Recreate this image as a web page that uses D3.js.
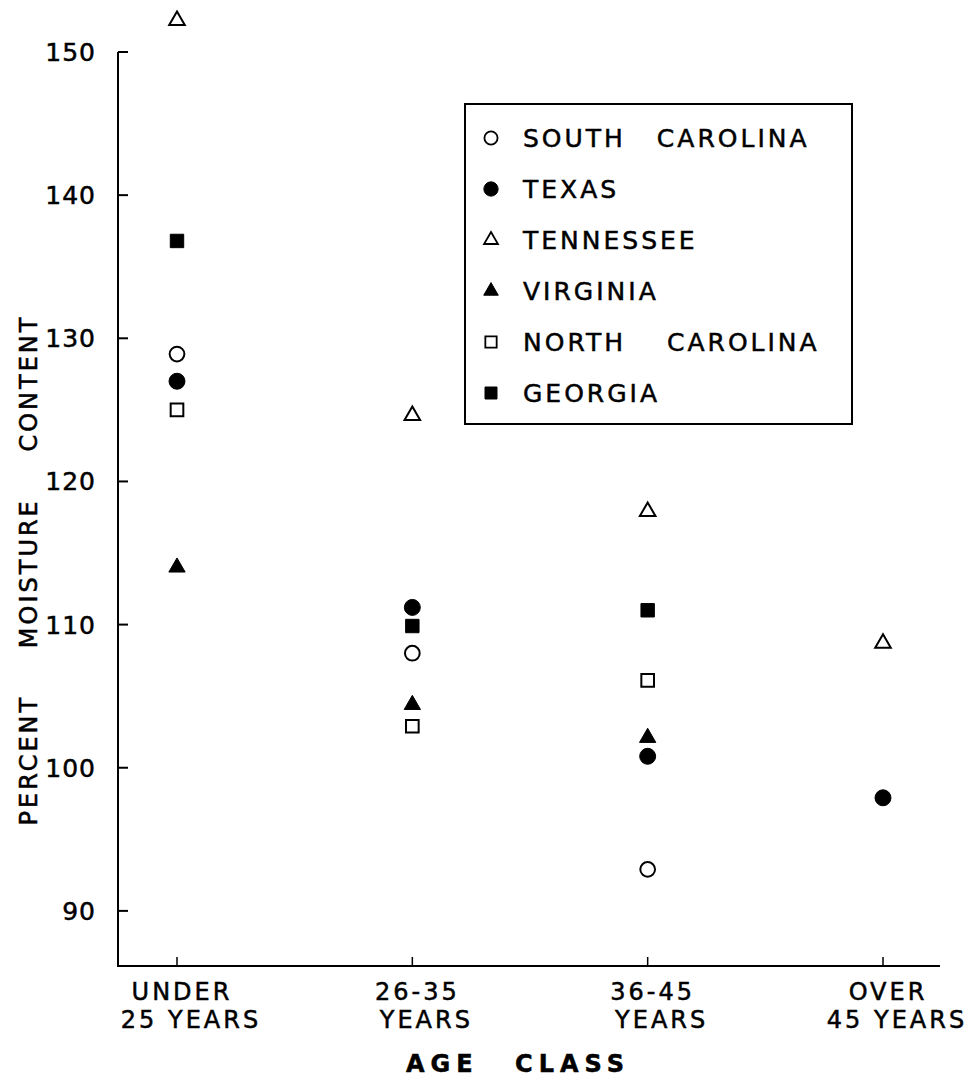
<!DOCTYPE html>
<html>
<head>
<meta charset="utf-8">
<script src="https://cdn.jsdelivr.net/npm/d3@7"></script>
<style>
    body { margin: 0; background: #fff; }
    text { font-family: "DejaVu Sans", sans-serif; fill: #000; stroke: #000; stroke-width: 0.5px; }
</style>
</head>
<body>
<div id="chart"></div>
<script>
var categories = ["under25", "26-35", "36-45", "over45"];
var categoryLines = [["UNDER", "25 YEARS"], ["26-35", "YEARS"], ["36-45", "YEARS"], ["OVER", "45 YEARS"]];
var yTicks = [90, 100, 110, 120, 130, 140, 150];

var seriesNames = ["SOUTH CAROLINA", "TEXAS", "TENNESSEE", "VIRGINIA", "NORTH CAROLINA", "GEORGIA"];
var southCarolina = [128.9, 108.0, 92.9, null];
var texas = [127.0, 111.2, 100.8, 97.9];
var tennessee = [152.2, 124.6, 117.9, 108.7];
var virginia = [114.0, 104.4, 102.1, null];
var northCarolina = [125.0, 102.9, 106.1, null];
var georgia = [136.8, 109.9, 111.0, null];

var seriesValues = [southCarolina, texas, tennessee, virginia, northCarolina, georgia];
var shapes = [
    { type: d3.symbolCircle, size: 170, filled: false },
    { type: d3.symbolCircle, size: 200, filled: true },
    { type: d3.symbolTriangle, size: 105, filled: false },
    { type: d3.symbolTriangle, size: 115, filled: true },
    { type: d3.symbolSquare, size: 160, filled: false },
    { type: d3.symbolSquare, size: 180, filled: true }
];

var width = 974,
    height = 1080;

var svg = d3.select("#chart")
    .append("svg")
    .attr("width", width)
    .attr("height", height);

var x = d3.scalePoint()
    .domain(categories)
    .range([177, 883]);

var y = d3.scaleLinear()
    .domain([86.15, 150])
    .range([966, 52]);

var axisLeftX = 118,
    axisRightX = 940;

// y axis: line + inward ticks
svg.append("line")
    .attr("x1", axisLeftX).attr("x2", axisLeftX)
    .attr("y1", y(150)).attr("y2", y.range()[0])
    .style("stroke", "#000").style("stroke-width", 2);

svg.selectAll(".ytick")
    .data(yTicks).enter()
    .append("line")
    .attr("class", "ytick")
    .attr("x1", axisLeftX).attr("x2", axisLeftX + 10)
    .attr("y1", function(d) { return y(d); })
    .attr("y2", function(d) { return y(d); })
    .style("stroke", "#000").style("stroke-width", 2);

svg.selectAll(".ylabel")
    .data(yTicks).enter()
    .append("text")
    .attr("class", "ylabel")
    .attr("x", 96)
    .attr("y", function(d) { return y(d) + 9; })
    .style("text-anchor", "end")
    .style("font-size", "25px")
    .style("letter-spacing", "1px")
    .text(function(d) { return d; });

// x axis
svg.append("line")
    .attr("x1", axisLeftX - 1).attr("x2", axisRightX)
    .attr("y1", y.range()[0]).attr("y2", y.range()[0])
    .style("stroke", "#000").style("stroke-width", 2);

svg.selectAll(".xtick")
    .data(categories).enter()
    .append("line")
    .attr("class", "xtick")
    .attr("x1", function(d) { return x(d); })
    .attr("x2", function(d) { return x(d); })
    .attr("y1", y.range()[0]).attr("y2", y.range()[0] - 9)
    .style("stroke", "#000").style("stroke-width", 1.5);

var xl = svg.selectAll(".xlabel")
    .data(categories).enter()
    .append("text")
    .attr("class", "xlabel")
    .style("text-anchor", "middle")
    .style("font-size", "24px")
    .style("letter-spacing", "3px");

xl.append("tspan")
    .attr("x", function(d) { return x(d) + 5; })
    .attr("y", 1000)
    .text(function(d, i) { return categoryLines[i][0]; });
xl.append("tspan")
    .attr("x", function(d) { return x(d) + 14; })
    .attr("y", 1028)
    .text(function(d, i) { return categoryLines[i][1]; });

// axis titles
svg.append("text")
    .attr("x", 518)
    .attr("y", 1072)
    .style("text-anchor", "middle")
    .style("font-size", "24px")
    .style("font-weight", "bold")
    .style("letter-spacing", "6px")
    .style("word-spacing", "22px")
    .text("AGE CLASS");

svg.append("text")
    .attr("transform", "translate(37,570) rotate(-90)")
    .style("text-anchor", "middle")
    .style("font-size", "24px")
    .style("letter-spacing", "3px")
    .style("word-spacing", "36px")
    .text("PERCENT MOISTURE CONTENT");

// points
seriesValues.forEach(function(vals, s) {
    var sh = shapes[s];
    var pts = categories
        .map(function(c, i) { return { cat: c, v: vals[i] }; })
        .filter(function(d) { return d.v != null; });

    svg.selectAll(".pt" + s)
        .data(pts).enter()
        .append("path")
        .attr("class", "pt" + s)
        .attr("d", d3.symbol().type(sh.type).size(sh.size))
        .attr("transform", function(d) { return `translate(${x(d.cat)},${y(d.v)})`; })
        .style("fill", sh.filled ? "#000" : "#fff")
        .style("stroke", "#000")
        .style("stroke-width", sh.filled ? 1 : 2);
});

// legend
var legend = svg.append("g");
legend.append("rect")
    .attr("x", 465).attr("y", 104)
    .attr("width", 387).attr("height", 320)
    .style("fill", "#fff")
    .style("stroke", "#000")
    .style("stroke-width", 2);

seriesNames.forEach(function(name, i) {
    var sh = shapes[i];
    var cy = 138 + i * 51;
    legend.append("path")
        .attr("d", d3.symbol().type(sh.type).size(sh.size * 0.8))
        .attr("transform", `translate(491,${cy})`)
        .style("fill", sh.filled ? "#000" : "#fff")
        .style("stroke", "#000")
        .style("stroke-width", sh.filled ? 1 : 1.8);
    legend.append("text")
        .attr("x", 523)
        .attr("y", cy + 9)
        .style("font-size", "25px")
        .style("letter-spacing", "3px")
        .style("word-spacing", i == 4 ? "30px" : "20px")
        .text(name);
});
</script>
</body>
</html>
